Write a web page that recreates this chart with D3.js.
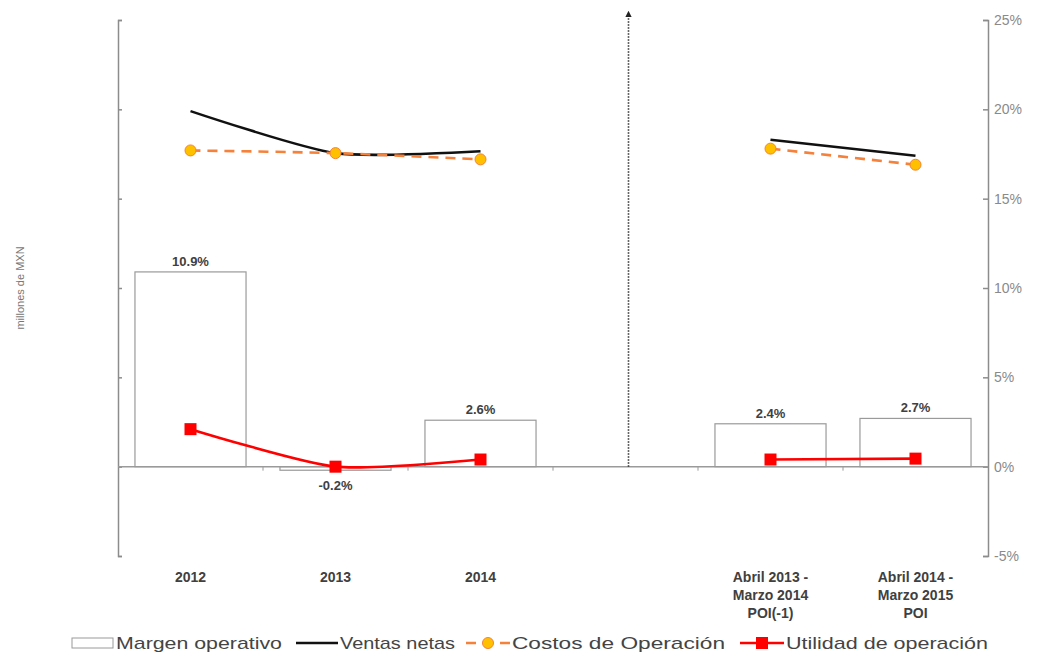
<!DOCTYPE html>
<html lang="es">
<head>
<meta charset="utf-8">
<title>Margen operativo</title>
<script src="https://cdn.jsdelivr.net/npm/d3@7"></script>
<style>
  body { margin: 0; background: #fff; }
  svg text { font-family: "Liberation Sans", Arial, sans-serif; }
</style>
</head>
<body>
<script>
// categorias (la cuarta es el hueco entre anuales y POI)
var categories = ["2012", "2013", "2014", "gap", "poi1", "poi"];
var catLabels = [["2012"], ["2013"], ["2014"], [], ["Abril 2013 -", "Marzo 2014", "POI(-1)"], ["Abril 2014 -", "Marzo 2015", "POI"]];

// margen operativo, % (eje derecho)
var margen = [10.9, -0.2, 2.6, null, 2.4, 2.7];
// montos en millones de MXN (eje izquierdo, sin etiquetas)
var ventas = [1990, 1755, 1765, null, 1830, 1740];
var costos = [1770, 1755, 1720, null, 1780, 1690];
var utilidad = [210, 0, 40, null, 40, 45];

var pctTicks = [-5, 0, 5, 10, 15, 20, 25];
var leftTicks = [-500, 0, 500, 1000, 1500, 2000, 2500];

var w = 1042, h = 652;
var x0 = 118, x1 = 988, yTop = 20, yBot = 556;

var svg = d3.select("body").append("svg")
  .attr("width", w).attr("height", h);

var xScale = d3.scaleBand().domain(categories).range([x0, x1]).paddingInner(0.234).paddingOuter(0.117);
var yPct = d3.scaleLinear().domain([-5, 25]).range([yBot, yTop]);
var yLeft = d3.scaleLinear().domain([-500, 2500]).range([yBot, yTop]);

var cx = function(i) { return xScale(categories[i]) + xScale.bandwidth() / 2; };

// eje izquierdo
var leftAxis = d3.axisRight(yLeft).tickValues(leftTicks).tickFormat("").tickSize(4).tickSizeOuter(4);
var gl = svg.append("g").attr("transform", "translate(" + x0 + ",0)").call(leftAxis);
gl.selectAll("path, line").attr("stroke", "#8c8c8c").attr("stroke-width", 1.5);

// eje derecho
var rightAxis = d3.axisLeft(yPct).tickValues(pctTicks).tickFormat(function(d) { return d + "%"; }).tickSize(5).tickSizeOuter(5).tickPadding(0);
var gr = svg.append("g").attr("transform", "translate(" + x1 + ",0)").call(rightAxis);
gr.selectAll("path, line").attr("stroke", "#8c8c8c").attr("stroke-width", 1.5);
gr.selectAll("text").attr("x", 6).attr("text-anchor", "start").attr("fill", "#8a8a8a").attr("font-size", 14);

svg.append("text")
  .attr("transform", "translate(24," + yPct(10) + ") rotate(-90)")
  .attr("text-anchor", "middle")
  .attr("font-size", 11).attr("fill", "#777")
  .text("millones de MXN");

// barras
var barData = margen.map(function(v, i) { return { v: v, c: categories[i] }; }).filter(function(d) { return d.v !== null; });
svg.selectAll("rect.bar")
  .data(barData)
  .enter().append("rect")
  .attr("class", "bar")
  .attr("x", function(d) { return xScale(d.c); })
  .attr("width", xScale.bandwidth())
  .attr("y", function(d) { return yPct(Math.max(0, d.v)); })
  .attr("height", function(d) { return Math.abs(yPct(d.v) - yPct(0)); })
  .attr("fill", "#fff").attr("stroke", "#9a9a9a").attr("stroke-width", 1.2);

svg.selectAll("text.barlbl")
  .data(barData)
  .enter().append("text")
  .attr("class", "barlbl")
  .attr("x", function(d) { return xScale(d.c) + xScale.bandwidth() / 2; })
  .attr("y", function(d) { return d.v >= 0 ? yPct(d.v) - 6 : yPct(d.v) + 20; })
  .attr("text-anchor", "middle").attr("font-size", 13).attr("font-weight", "bold").attr("fill", "#404040")
  .text(function(d) { return d.v.toFixed(1) + "%"; });

// linea del cero y marcas de categoria
svg.append("line").attr("x1", x0).attr("x2", x1).attr("y1", yPct(0)).attr("y2", yPct(0))
  .attr("stroke", "#9a9a9a").attr("stroke-width", 1.5);
var step = xScale.step();
svg.selectAll("line.ctick").data(categories.slice(1)).enter().append("line")
  .attr("class", "ctick")
  .attr("x1", function(d) { return xScale(d) - (step - xScale.bandwidth()) / 2; })
  .attr("x2", function(d) { return xScale(d) - (step - xScale.bandwidth()) / 2; })
  .attr("y1", yPct(0)).attr("y2", yPct(0) + 4)
  .attr("stroke", "#9a9a9a");

// flecha divisoria
var xDiv = cx(3) + 3;
svg.append("defs").append("marker")
  .attr("id", "arr").attr("viewBox", "0 0 10 10").attr("refX", 5).attr("refY", 5)
  .attr("markerWidth", 4).attr("markerHeight", 4).attr("orient", "auto")
  .append("path").attr("d", "M0,0 L10,5 L0,10 Z").attr("fill", "#222");
svg.append("line")
  .attr("x1", xDiv).attr("x2", xDiv).attr("y1", yPct(0)).attr("y2", 14)
  .attr("stroke", "#333").attr("stroke-width", 1.6).attr("stroke-dasharray", "1.5,1.5")
  .attr("marker-end", "url(#arr)");

// lineas por segmento
function segments(vals) {
  var pts = vals.map(function(v, i) { return { x: cx(i), y: v === null ? null : yLeft(v) }; });
  return [pts.slice(0, 3), pts.slice(4, 6)];
}
var smooth = d3.line().x(function(d) { return d.x; }).y(function(d) { return d.y; }).curve(d3.curveCardinal.tension(0.3));

segments(ventas).forEach(function(s) {
  svg.append("path").attr("d", smooth(s)).attr("fill", "none").attr("stroke", "#111").attr("stroke-width", 2.6);
});
segments(costos).forEach(function(s) {
  svg.append("path").attr("d", smooth(s)).attr("fill", "none").attr("stroke", "#F5813A")
    .attr("stroke-width", 2.6).attr("stroke-dasharray", "10,7");
});
segments(utilidad).forEach(function(s) {
  svg.append("path").attr("d", smooth(s)).attr("fill", "none").attr("stroke", "#FF0000").attr("stroke-width", 2.6);
});

svg.selectAll("circle.costo")
  .data(costos.map(function(v, i) { return { v: v, i: i }; }).filter(function(d) { return d.v !== null; }))
  .enter().append("circle").attr("class", "costo")
  .attr("cx", function(d) { return cx(d.i); }).attr("cy", function(d) { return yLeft(d.v); })
  .attr("r", 5.5).attr("fill", "#FFC000").attr("stroke", "#F5813A").attr("stroke-width", 1);

svg.selectAll("rect.util")
  .data(utilidad.map(function(v, i) { return { v: v, i: i }; }).filter(function(d) { return d.v !== null; }))
  .enter().append("rect").attr("class", "util")
  .attr("x", function(d) { return cx(d.i) - 6; }).attr("y", function(d) { return yLeft(d.v) - 6; })
  .attr("width", 12).attr("height", 12).attr("fill", "#FF0000");

// etiquetas de categoria
var cl = svg.selectAll("text.cat").data(catLabels).enter().append("text")
  .attr("class", "cat")
  .attr("x", function(d, i) { return cx(i); })
  .attr("y", 582)
  .attr("text-anchor", "middle").attr("font-size", 14).attr("font-weight", "bold").attr("fill", "#404040");
cl.selectAll("tspan").data(function(d) { return d; }).enter().append("tspan")
  .attr("x", function() { return d3.select(this.parentNode).attr("x"); })
  .attr("dy", function(d, j) { return j === 0 ? 0 : 18; })
  .text(function(d) { return d; });

// leyenda
var ly = 643;
var lg = svg.append("g");
lg.append("rect").attr("x", 72).attr("y", ly - 5).attr("width", 41).attr("height", 10)
  .attr("fill", "#fff").attr("stroke", "#9a9a9a");
lg.append("line").attr("x1", 296).attr("x2", 338).attr("y1", ly).attr("y2", ly).attr("stroke", "#111").attr("stroke-width", 2.6);
lg.append("line").attr("x1", 466).attr("x2", 510).attr("y1", ly).attr("y2", ly).attr("stroke", "#F5813A").attr("stroke-width", 2.6).attr("stroke-dasharray", "10,7");
lg.append("circle").attr("cx", 488).attr("cy", ly).attr("r", 5.5).attr("fill", "#FFC000").attr("stroke", "#F5813A");
lg.append("line").attr("x1", 740).attr("x2", 784).attr("y1", ly).attr("y2", ly).attr("stroke", "#FF0000").attr("stroke-width", 2.6);
lg.append("rect").attr("x", 756).attr("y", ly - 6).attr("width", 12).attr("height", 12).attr("fill", "#FF0000");

var legendText = [
  { t: "Margen operativo", x: 116, len: 166 },
  { t: "Ventas netas", x: 340, len: 115 },
  { t: "Costos de Operación", x: 512, len: 213 },
  { t: "Utilidad de operación", x: 786, len: 202 }
];
lg.selectAll("text").data(legendText).enter().append("text")
  .attr("x", function(d) { return d.x; }).attr("y", ly + 6)
  .attr("font-size", 17).attr("fill", "#444")
  .attr("textLength", function(d) { return d.len; }).attr("lengthAdjust", "spacingAndGlyphs")
  .text(function(d) { return d.t; });
</script>
</body>
</html>
